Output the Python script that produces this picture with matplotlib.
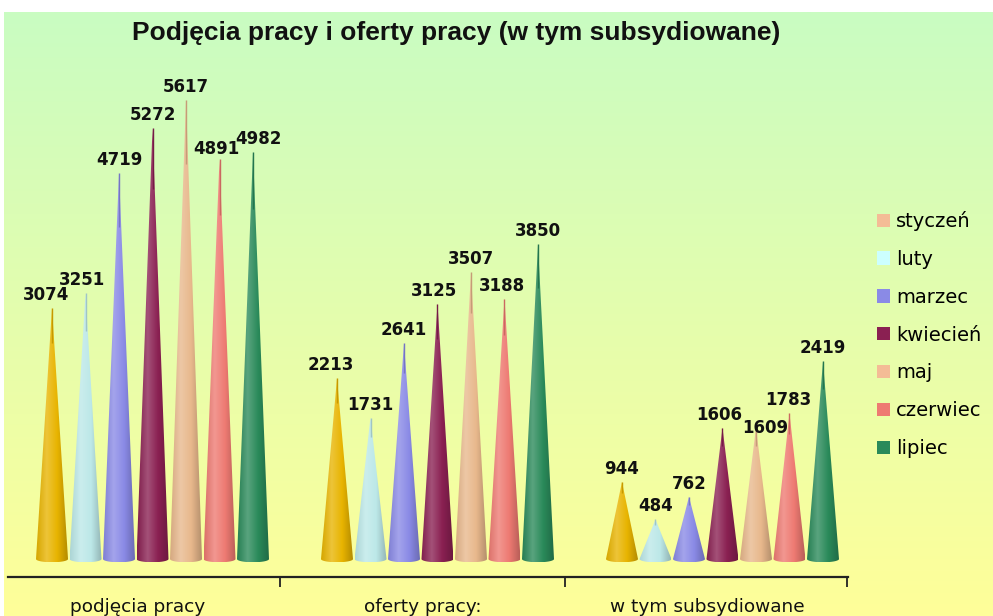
import numpy as np
import matplotlib
matplotlib.use('Agg')
import matplotlib.pyplot as plt
from matplotlib.colors import to_rgb, LinearSegmentedColormap
from matplotlib.patches import Polygon, Patch

categories = ['podjęcia pracy', 'oferty pracy:', 'w tym subsydiowane']
months = ['styczeń', 'luty', 'marzec', 'kwiecień', 'maj', 'czerwiec', 'lipiec']
styczen = [3074, 2213, 944]
luty = [3251, 1731, 484]
marzec = [4719, 2641, 762]
kwiecien = [5272, 3125, 1606]
maj = [5617, 3507, 1609]
czerwiec = [4891, 3188, 1783]
lipiec = [4982, 3850, 2419]
series = [styczen, luty, marzec, kwiecien, maj, czerwiec, lipiec]

cone_colors = ['#E8B400', '#BCE8E8', '#8A8AE6', '#8A2052', '#E8B88C', '#EE7A72', '#2A8A5A']
legend_colors = ['#F4BC96', '#CCFFFF', '#8A8AE6', '#8A2052', '#F4BC96', '#EE7A72', '#2A8A5A']

# small label nudges (pixels, x right / y up) as in the reference
label_nudge = {(0, 0): (-6, 0), (1, 0): (-4, 0), (5, 0): (-3, -3), (6, 0): (5, 0),
               (0, 1): (-6, 0), (3, 1): (-3, 0), (5, 1): (-3, 0),
               (3, 2): (-3, 0), (4, 2): (9, -13), (5, 2): (-1, 0)}

W, H = 993, 616
fig = plt.figure(figsize=(W / 100, H / 100), dpi=100)
fig.patch.set_facecolor('white')

# background gradient
bg = fig.add_axes([4 / W, 0, 1 - 4 / W, (H - 12) / H])
top = np.array(to_rgb('#C9FCC2'))
bot = np.array(to_rgb('#FFFF99'))
t = np.linspace(0, 1, 256)[:, None, None]
img = top * (1 - t) + bot * t
bg.imshow(img, aspect='auto', extent=[0, 1, 0, 1], interpolation='bilinear')
bg.axis('off')

ax = fig.add_axes([8 / W, 1 - 577 / H, 840 / W, 565 / H])
ax.patch.set_alpha(0)

off = 15 / 285
sp = 33.5 / 285
hw = 16 / 285
eh = 40

def shade_cmap(c):
    c = np.array(to_rgb(c))
    dark = c * 0.78
    mid = c * 0.92
    light = c + (1 - c) * 0.22
    return LinearSegmentedColormap.from_list('s', [mid, light, c, dark], N=64)

for j, vals in enumerate(series):
    cmap = shade_cmap(cone_colors[j])
    for i, v in enumerate(vals):
        xc = i + off + (j - 3) * sp
        th = np.linspace(0, np.pi, 30)
        arc = np.column_stack([xc + hw * np.cos(th), -eh * np.sin(th)])
        pts = np.vstack([[[xc, v]], arc])
        poly = Polygon(pts, closed=True, facecolor='none', edgecolor='none')
        ax.add_patch(poly)
        im = ax.imshow(cmap(np.linspace(0, 1, 64))[None, :, :], aspect='auto',
                       extent=[xc - hw, xc + hw, -eh, v], interpolation='bilinear', zorder=2)
        im.set_clip_path(poly)
        ax.plot([xc, xc], [v * 0.86, v], color=np.array(to_rgb(cone_colors[j])) * 0.85,
                lw=1.0, zorder=3, solid_capstyle='butt')
        dx, dy = label_nudge.get((j, i), (0, 0))
        ax.annotate(str(v), (xc, v), xytext=(dx * 0.72, (4 + dy) * 0.72),
                    textcoords='offset points',
                    ha='center', va='bottom', fontsize=12, fontweight='bold',
                    family='DejaVu Sans', color='#111111', zorder=4)

ax.set_xlim(-0.4544, 2.493)
ax.set_ylim(-220, 6694)
for s in ['top', 'right', 'left']:
    ax.spines[s].set_visible(False)
ax.spines['bottom'].set_linewidth(1.6)
ax.spines['bottom'].set_color('#222222')
ax.set_yticks([])
ax.set_xticks([0, 1, 2])
ax.set_xticklabels(categories, fontsize=13.3, family='DejaVu Sans', color='#111111')
ax.tick_params(axis='x', which='major', length=0, pad=15)
ax.set_xticks([0.5, 1.5, 2.49], minor=True)
ax.tick_params(axis='x', which='minor', length=7, width=1.3, direction='out', color='#222222')

fig.text(456 / W, 1 - 33 / H, 'Podjęcia pracy i oferty pracy (w tym subsydiowane)',
         ha='center', va='center', fontsize=19, fontweight='bold',
         family='Liberation Sans', color='#111111')

handles = [Patch(facecolor=c, edgecolor='none') for c in legend_colors]
fig.legend(handles, months, loc='upper left', bbox_to_anchor=(877 / W, 1 - 211 / H),
           frameon=False, handlelength=0.68, handleheight=0.68,
           handletextpad=0.3, labelspacing=0.97, borderpad=0, borderaxespad=0,
           prop={'family': 'DejaVu Sans', 'size': 14})

fig.savefig('out.png', dpi=100)
